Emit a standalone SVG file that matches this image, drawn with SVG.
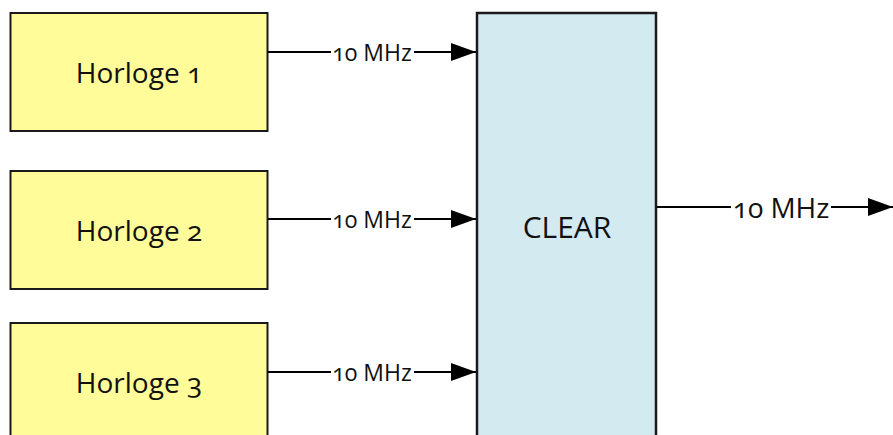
<svg xmlns="http://www.w3.org/2000/svg" width="893" height="435" viewBox="0 0 893 435">
<style>
.clk{fill:#FFFC99;stroke:#1a1a1a;stroke-width:2}
.mux{fill:#D3EAF0;stroke:#1a1a1a;stroke-width:2.5}
text{font-family:"Open Sans","Noto Sans","Liberation Sans",sans-serif;font-variant-numeric:oldstyle-nums;fill:#111}
.nt{font-size:28px;text-anchor:middle;dominant-baseline:central}
.nc{font-size:30px;text-anchor:middle;dominant-baseline:central}
.lb{font-size:23px;text-anchor:middle;dominant-baseline:central}
.lb2{font-size:28px;text-anchor:middle;dominant-baseline:central}
.bg{fill:#fff}
.ln{stroke:#000;stroke-width:2;fill:none}
</style>
<defs>
<marker id="ah" markerUnits="userSpaceOnUse" markerWidth="26" markerHeight="18" refX="25" refY="9" orient="auto">
<path d="M0,0 L25,9 L0,18 Z" fill="#000"/>
</marker>
</defs>
<g id="horloge1"><rect class="clk" x="10.5" y="13" width="257" height="118"/><text class="nt" x="139" y="72">Horloge 1</text></g>
<g id="horloge2"><rect class="clk" x="10.5" y="171" width="257" height="118"/><text class="nt" x="139" y="230">Horloge 2</text></g>
<g id="horloge3"><rect class="clk" x="10.5" y="323" width="257" height="130"/><text class="nt" x="139" y="382">Horloge 3</text></g>
<g id="clear"><rect class="mux" x="477" y="13" width="179" height="440"/><text class="nc" x="567" y="226">CLEAR</text></g>
<g id="connectors">
<line class="ln" x1="268" y1="52" x2="476" y2="52" marker-end="url(#ah)"/>
<rect class="bg" x="331" y="40" width="83" height="24"/>
<text class="lb" x="372" y="52">10 MHz</text>
<line class="ln" x1="268" y1="219" x2="476" y2="219" marker-end="url(#ah)"/>
<rect class="bg" x="331" y="207" width="83" height="24"/>
<text class="lb" x="372" y="219">10 MHz</text>
<line class="ln" x1="268" y1="372" x2="476" y2="372" marker-end="url(#ah)"/>
<rect class="bg" x="331" y="360" width="83" height="24"/>
<text class="lb" x="372" y="372">10 MHz</text>
<line class="ln" x1="657" y1="207" x2="893" y2="207" marker-end="url(#ah)"/>
<rect class="bg" x="731" y="192" width="100" height="30"/>
<text class="lb2" x="781" y="207">10 MHz</text>
</g>
</svg>
